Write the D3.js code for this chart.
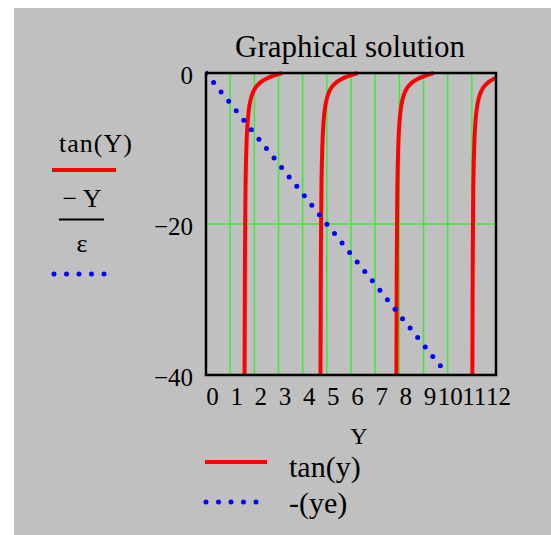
<!DOCTYPE html>
<html>
<head>
<meta charset="utf-8">
<script src="https://cdnjs.cloudflare.com/ajax/libs/d3/7.8.5/d3.min.js"></script>
<style>
  body { margin: 0; background: #fff; }
  text { font-family: "Liberation Serif", "Times New Roman", serif; fill: #000; }
</style>
</head>
<body>
<div id="chart"></div>
<script>
// x ticks and y ticks
var xTicks = [0, 1, 2, 3, 4, 5, 6, 7, 8, 9, 10, 11, 12];
var yTicks = [0, -20, -40];
var yGrid = [-20];

// tan(Y) branches (Y, value)
var tanY1 = [1.596, 1.611, 1.631, 1.671, 1.721, 1.771, 1.871, 1.971, 2.071, 2.221, 2.371, 2.571, 2.771, 2.971, 3.142];
var tanV1 = [-40, -25, -16.6, -9.97, -6.6, -4.93, -3.23, -2.37, -1.83, -1.31, -0.97, -0.64, -0.39, -0.17, 0];
var tanY2 = [4.737, 4.752, 4.772, 4.812, 4.862, 4.912, 5.012, 5.112, 5.212, 5.362, 5.512, 5.712, 5.912, 6.112, 6.283];
var tanV2 = [-40, -25, -16.6, -9.97, -6.6, -4.93, -3.23, -2.37, -1.83, -1.31, -0.97, -0.64, -0.39, -0.17, 0];
var tanY3 = [7.879, 7.894, 7.914, 7.954, 8.004, 8.054, 8.154, 8.254, 8.354, 8.504, 8.654, 8.854, 9.054, 9.254, 9.425];
var tanV3 = [-40, -25, -16.6, -9.97, -6.6, -4.93, -3.23, -2.37, -1.83, -1.31, -0.97, -0.64, -0.39, -0.17, 0];
var tanY4 = [11.021, 11.036, 11.056, 11.096, 11.146, 11.196, 11.296, 11.396, 11.496, 11.646, 11.796, 12.0];
var tanV4 = [-40, -25, -16.6, -9.97, -6.6, -4.93, -3.23, -2.37, -1.83, -1.31, -0.97, -0.64];

// -Y/eps line
var lineY = [0, 10];
var lineV = [0, -40];

var W = 551, H = 535;
var plot = { left: 206, right: 496, top: 73, bottom: 375 };

var svg = d3.select("#chart").append("svg")
    .attr("width", W)
    .attr("height", H);

svg.append("rect")
    .attr("x", 14).attr("y", 8)
    .attr("width", W - 14).attr("height", H - 8)
    .attr("fill", "#c0c0c0");

var x = d3.scaleLinear().domain([0, 12]).range([plot.left, plot.right]);
var y = d3.scaleLinear().domain([-40, 0]).range([plot.bottom, plot.top]);

svg.append("text")
    .attr("x", 350).attr("y", 57)
    .attr("text-anchor", "middle")
    .attr("font-size", 31)
    .text("Graphical solution");

// grid
svg.append("g").selectAll("line").data(xTicks.slice(1, -1)).enter().append("line")
    .attr("x1", function (d) { return x(d); })
    .attr("x2", function (d) { return x(d); })
    .attr("y1", plot.top).attr("y2", plot.bottom)
    .attr("stroke", "#3ee83e").attr("stroke-width", 1.5);

svg.append("g").selectAll("line").data(yGrid).enter().append("line")
    .attr("y1", function (d) { return y(d); })
    .attr("y2", function (d) { return y(d); })
    .attr("x1", plot.left).attr("x2", plot.right)
    .attr("stroke", "#3ee83e").attr("stroke-width", 1.5);

svg.append("clipPath").attr("id", "clip")
    .append("rect")
    .attr("x", plot.left).attr("y", plot.top - 2)
    .attr("width", plot.right - plot.left).attr("height", plot.bottom - plot.top + 2);

var line = d3.line()
    .x(function (d) { return x(d[0]); })
    .y(function (d) { return y(d[1]); })
    .curve(d3.curveMonotoneX);

var branches = [[tanY1, tanV1], [tanY2, tanV2], [tanY3, tanV3], [tanY4, tanV4]];
var curves = svg.append("g").attr("clip-path", "url(#clip)");

curves.selectAll("path.tan").data(branches).enter().append("path")
    .attr("class", "tan")
    .attr("d", function (b) { return line(d3.zip(b[0], b[1])); })
    .attr("fill", "none")
    .attr("stroke", "#ff0000")
    .attr("stroke-width", 4);

curves.append("path")
    .attr("d", d3.line().x(function (d) { return x(d[0]); }).y(function (d) { return y(d[1]); })(d3.zip(lineY, lineV)))
    .attr("fill", "none")
    .attr("stroke", "#0000ff")
    .attr("stroke-width", 5)
    .attr("stroke-linecap", "round")
    .attr("stroke-dasharray", "0,12.1");

// frame
svg.append("rect")
    .attr("x", plot.left).attr("y", plot.top)
    .attr("width", plot.right - plot.left).attr("height", plot.bottom - plot.top)
    .attr("fill", "none").attr("stroke", "#000").attr("stroke-width", 2.5);

// tick labels
svg.append("g").selectAll("text").data(yTicks).enter().append("text")
    .attr("x", 193)
    .attr("y", function (d) { return y(d) + 11; })
    .attr("text-anchor", "end")
    .attr("font-size", 25)
    .text(function (d) { return d < 0 ? "\u2212" + (-d) : d; });

svg.append("g").selectAll("text").data(xTicks).enter().append("text")
    .attr("x", function (d) { return x(d) + (d < 10 ? 6.5 : 2.5); })
    .attr("y", 405)
    .attr("text-anchor", "middle")
    .attr("font-size", 25)
    .text(function (d) { return d; });

svg.append("text")
    .attr("x", 359).attr("y", 444)
    .attr("text-anchor", "middle")
    .attr("font-size", 24)
    .text("Y");

// left legend (Mathcad trace labels)
var left = svg.append("g");
left.append("text").attr("x", 96).attr("y", 152).attr("text-anchor", "middle")
    .attr("font-size", 26).attr("letter-spacing", 1).text("tan(Y)");
left.append("line").attr("x1", 52).attr("x2", 116).attr("y1", 170).attr("y2", 170)
    .attr("stroke", "#ff0000").attr("stroke-width", 4);
left.append("text").attr("x", 82).attr("y", 207).attr("text-anchor", "middle")
    .attr("font-size", 26).text("\u2212 Y");
left.append("line").attr("x1", 59).attr("x2", 104).attr("y1", 219.5).attr("y2", 219.5)
    .attr("stroke", "#000").attr("stroke-width", 2);
left.append("text").attr("x", 82).attr("y", 252).attr("text-anchor", "middle")
    .attr("font-size", 26).text("\u03b5");
left.append("line").attr("x1", 54).attr("x2", 104.5).attr("y1", 274).attr("y2", 274)
    .attr("stroke", "#0000ff").attr("stroke-width", 5)
    .attr("stroke-linecap", "round").attr("stroke-dasharray", "0,12.5");

// bottom legend
var legend = svg.append("g");
legend.append("line").attr("x1", 205).attr("x2", 267).attr("y1", 462).attr("y2", 462)
    .attr("stroke", "#ff0000").attr("stroke-width", 4);
legend.append("text").attr("x", 289).attr("y", 477).attr("font-size", 30).text("tan(y)");
legend.append("line").attr("x1", 206).attr("x2", 256.5).attr("y1", 502).attr("y2", 502)
    .attr("stroke", "#0000ff").attr("stroke-width", 5)
    .attr("stroke-linecap", "round").attr("stroke-dasharray", "0,12.5");
legend.append("text").attr("x", 289).attr("y", 513).attr("font-size", 30).text("-(ye)");
</script>
</body>
</html>
